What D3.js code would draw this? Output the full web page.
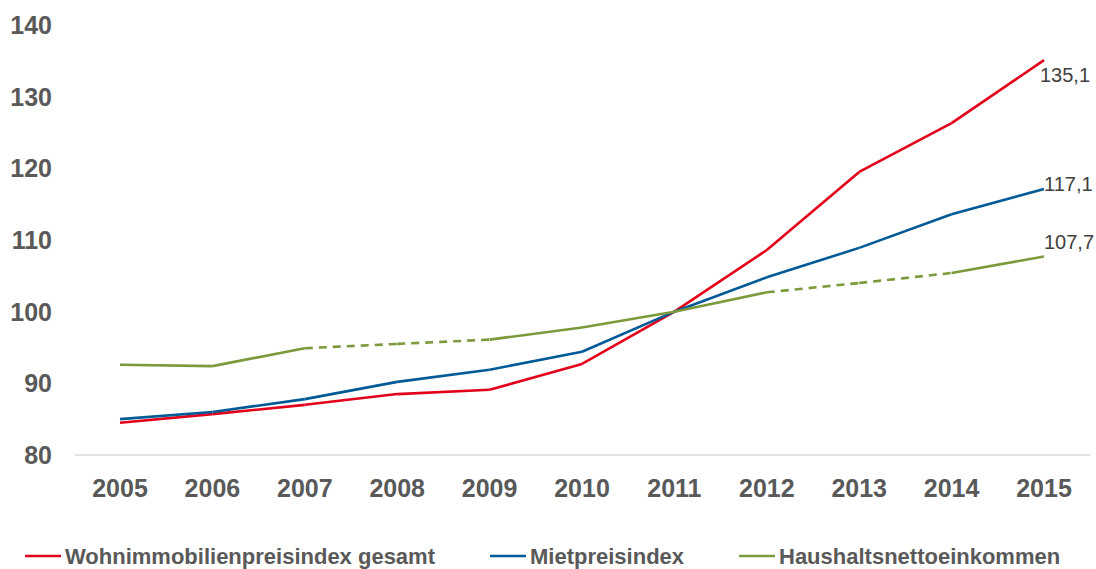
<!DOCTYPE html>
<html>
<head>
<meta charset="utf-8">
<script src="https://cdn.jsdelivr.net/npm/d3@7"></script>
<style>
  body { margin: 0; background: #fff; }
  svg { display: block; font-family: "Liberation Sans", Arial, sans-serif; }
</style>
</head>
<body>
<svg></svg>
<script>
const width = 1096
const height = 569

// data
const years = ["2005", "2006", "2007", "2008", "2009", "2010", "2011", "2012", "2013", "2014", "2015"]
const wohnimmo = [84.5, 85.7, 87.0, 88.5, 89.1, 92.7, 100, 108.6, 119.5, 126.3, 135.1]
const mietpreis = [85.0, 86.0, 87.8, 90.2, 91.9, 94.4, 100, 104.8, 108.9, 113.6, 117.1]
const haushalt = [92.6, 92.4, 94.9, 95.5, 96.1, 97.8, 100, 102.7, 104.0, 105.4, 107.7]
const yTicks = [80, 90, 100, 110, 120, 130, 140]
// segments of Haushaltsnettoeinkommen drawn dashed (start index)
const dashedFrom = [2, 3, 7, 8]

const series = [
  {name: "Wohnimmobilienpreisindex gesamt", values: wohnimmo, color: "#e2001a", label: "135,1"},
  {name: "Mietpreisindex", values: mietpreis, color: "#005a96", label: "117,1"},
  {name: "Haushaltsnettoeinkommen", values: haushalt, color: "#7b9a3b", label: "107,7"}
]

const svg = d3.select("svg")
  .attr("width", width)
  .attr("height", height)

const x = d3.scalePoint()
  .domain(years)
  .range([120, 1044])

const y = d3.scaleLinear()
  .domain([80, 140])
  .range([455, 25])

// y tick labels
svg.append("g")
  .selectAll("text")
  .data(yTicks)
  .enter()
  .append("text")
  .attr("x", 52)
  .attr("y", d => y(d))
  .attr("dy", "0.36em")
  .attr("text-anchor", "end")
  .style("font-size", "25px")
  .style("font-weight", "bold")
  .style("fill", "#595959")
  .text(d => d)

// x axis line
svg.append("line")
  .attr("x1", 75).attr("x2", 1090)
  .attr("y1", y(80)).attr("y2", y(80))
  .style("stroke", "#d9d9d9")
  .attr("stroke-width", 1.5)

svg.append("g")
  .selectAll("text")
  .data(years)
  .enter()
  .append("text")
  .attr("x", d => x(d))
  .attr("y", 497)
  .attr("text-anchor", "middle")
  .style("font-size", "25px")
  .style("font-weight", "bold")
  .style("fill", "#595959")
  .text(d => d)

// lines, one segment at a time so some can be dashed
series.forEach(function(s, si) {
  const segs = d3.pairs(s.values.map((v, i) => [x(years[i]), y(v)]))
  svg.append("g")
    .selectAll("line")
    .data(segs)
    .enter()
    .append("line")
    .attr("x1", d => d[0][0])
    .attr("y1", d => d[0][1])
    .attr("x2", d => d[1][0])
    .attr("y2", d => d[1][1])
    .attr("stroke-width", 2.6)
    .attr("stroke-linecap", "butt")
    .style("stroke", s.color)
    .attr("stroke-dasharray", (d, i) => (si == 2 && dashedFrom.indexOf(i) >= 0) ? "8,6" : null)
})

// end value labels
const labelOffset = [15, -5, -15]
const labelShift = [-4, 0, 0]
series.forEach(function(s, si) {
  const last = s.values.length - 1
  svg.append("text")
    .attr("x", x(years[last]) + labelShift[si])
    .attr("y", y(s.values[last]) + labelOffset[si])
    .attr("dy", "0.36em")
    .style("font-size", "20px")
    .style("fill", "#404040")
    .text(s.label)
})

// legend (sits at the very bottom edge)
const legendX = [25, 490, 739]
const legend = svg.append("g")
  .selectAll("g")
  .data(series)
  .enter()
  .append("g")
  .attr("transform", (d, i) => "translate(" + legendX[i] + ",556)")

legend.append("line")
  .attr("x1", 0).attr("x2", 36)
  .attr("y1", 0).attr("y2", 0)
  .attr("stroke-width", 2.6)
  .style("stroke", d => d.color)

legend.append("text")
  .attr("x", 40)
  .attr("y", 8)
  .style("font-size", "22px")
  .style("font-weight", "bold")
  .style("fill", "#595959")
  .text(d => d.name)
</script>
</body>
</html>
